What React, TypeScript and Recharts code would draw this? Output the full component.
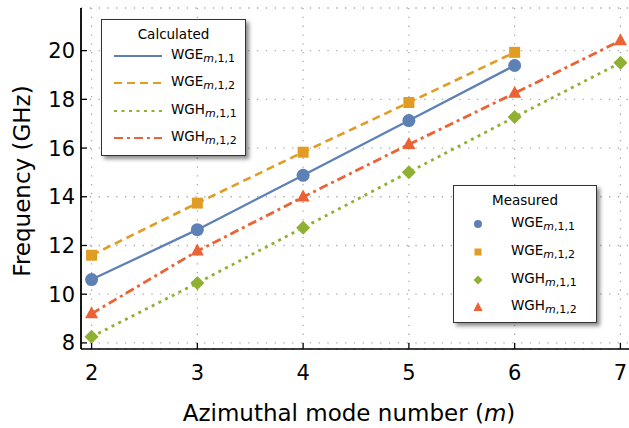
import React from "react";
import { CartesianGrid, ComposedChart, Line, Scatter, XAxis, YAxis } from "recharts";

// mode numbers
const M_E = [2, 3, 4, 5, 6];
const M_H = [2, 3, 4, 5, 6, 7];

// measured / calculated frequencies (GHz)
const WGE11 = [10.6, 12.65, 14.88, 17.13, 19.39];
const WGE12 = [11.6, 13.74, 15.83, 17.87, 19.93];
const WGH11 = [8.25, 10.46, 12.73, 15.01, 17.27, 19.5];
const WGH12 = [9.2, 11.77, 13.99, 16.15, 18.25, 20.41];

const X_TICKS = [2, 3, 4, 5, 6, 7];
const Y_TICKS = [8, 10, 12, 14, 16, 18, 20];

const SERIES_BASE = ["WGE", "WGE", "WGH", "WGH"];
const SERIES_IDX = [",1,1", ",1,2", ",1,1", ",1,2"];

// Mathematica 10 default palette
const BLUE = "#5E81B5";
const ORANGE = "#E19C24";
const GREEN = "#8FB032";
const RED = "#EB6235";
const COLORS = [BLUE, ORANGE, GREEN, RED];
const DASHES = ["", "8 5", "3 4.5", "9 4 3 4"];

const FONT = "'DejaVu Sans', sans-serif";

const pts = (ms: number[], fs: number[]) => ms.map((m, i) => ({ m, f: fs[i] }));

const XTick = ({ x, y, payload }: any) => (
  <g>
    <line x1={x} y1={y} x2={x} y2={y - 6} stroke="#000" strokeWidth={1.3} />
    <text x={x} y={y + 31} textAnchor="middle" fontSize={21} fontFamily={FONT} fill="#000">
      {payload.value}
    </text>
  </g>
);

const YTick = ({ x, y, payload }: any) => (
  <g>
    <line x1={x} y1={y} x2={x + 6} y2={y} stroke="#000" strokeWidth={1.3} />
    <text x={x - 6} y={y} dy="0.36em" textAnchor="end" fontSize={21} fontFamily={FONT} fill="#000">
      {payload.value}
    </text>
  </g>
);

const circleShape = (p: any) => <circle cx={p.cx} cy={p.cy} r={6.5} fill={BLUE} />;
const squareShape = (p: any) => <rect x={p.cx - 5.5} y={p.cy - 5.5} width={11} height={11} fill={ORANGE} />;
const diamondShape = (p: any) => (
  <polygon
    points={`${p.cx},${p.cy - 7} ${p.cx + 7},${p.cy} ${p.cx},${p.cy + 7} ${p.cx - 7},${p.cy}`}
    fill={GREEN}
  />
);
const triangleShape = (p: any) => (
  <polygon
    points={`${p.cx},${p.cy - 7.5} ${p.cx + 6.5},${p.cy + 4.5} ${p.cx - 6.5},${p.cy + 4.5}`}
    fill={RED}
  />
);

const Name = ({ i }: { i: number }) => (
  <span>
    {SERIES_BASE[i]}
    <span style={{ fontSize: 11, position: "relative", top: 3 }}>
      <i>m</i>
      {SERIES_IDX[i]}
    </span>
  </span>
);

const boxStyle: React.CSSProperties = {
  position: "absolute",
  background: "#fff",
  border: "1.5px solid #333",
  boxShadow: "3px 3px 4px rgba(0,0,0,0.45)",
  fontFamily: FONT,
  fontSize: 13.5,
  color: "#000",
};

const MarkerIcon = ({ i }: { i: number }) => (
  <svg width={16} height={16} style={{ position: "absolute", left: 16, top: -8 }}>
    {i === 0 && <circle cx={8} cy={8} r={4} fill={BLUE} />}
    {i === 1 && <rect x={4.5} y={4.5} width={7} height={7} fill={ORANGE} />}
    {i === 2 && <polygon points="8,3.5 12.5,8 8,12.5 3.5,8" fill={GREEN} />}
    {i === 3 && <polygon points="8,3 12.5,12 3.5,12" fill={RED} />}
  </svg>
);

export default function App() {
  return (
    <div style={{ position: "fixed", left: 0, top: 0, width: 629, height: 428, overflow: "hidden", background: "#fff" }}>
      <ComposedChart width={640} height={428} margin={{ top: 8, right: 9, bottom: 0, left: 0 }}>
        <CartesianGrid stroke="#aaa" strokeWidth={1.3} strokeDasharray="1.3 7.5" />
        <XAxis
          dataKey="m"
          type="number"
          domain={[1.9, 7.1]}
          ticks={X_TICKS}
          height={79}
          tickSize={0}
          tickMargin={0}
          tickLine={false}
          axisLine={{ stroke: "#000", strokeWidth: 1.6 }}
          tick={<XTick />}
          allowDataOverflow
        />
        <XAxis
          xAxisId="top"
          orientation="top"
          dataKey="m"
          type="number"
          domain={[1.9, 7.1]}
          height={0}
          tick={false}
          tickLine={false}
          axisLine={{ stroke: "#000", strokeWidth: 3 }}
          allowDataOverflow
        />
        <YAxis
          dataKey="f"
          type="number"
          domain={[7.75, 21.75]}
          ticks={Y_TICKS}
          width={81}
          tickSize={0}
          tickMargin={0}
          tickLine={false}
          axisLine={{ stroke: "#000", strokeWidth: 1.8 }}
          tick={<YTick />}
          allowDataOverflow
        />
        <Line data={pts(M_E, WGE11)} dataKey="f" stroke={BLUE} strokeWidth={2.3} dot={false} isAnimationActive={false} />
        <Line data={pts(M_E, WGE12)} dataKey="f" stroke={ORANGE} strokeWidth={2.6} strokeDasharray={DASHES[1]} dot={false} isAnimationActive={false} />
        <Line data={pts(M_H, WGH11)} dataKey="f" stroke={GREEN} strokeWidth={2.8} strokeDasharray={DASHES[2]} dot={false} isAnimationActive={false} />
        <Line data={pts(M_H, WGH12)} dataKey="f" stroke={RED} strokeWidth={2.8} strokeDasharray={DASHES[3]} dot={false} isAnimationActive={false} />
        <Scatter data={pts(M_E, WGE11)} dataKey="f" shape={circleShape} isAnimationActive={false} />
        <Scatter data={pts(M_E, WGE12)} dataKey="f" shape={squareShape} isAnimationActive={false} />
        <Scatter data={pts(M_H, WGH11)} dataKey="f" shape={diamondShape} isAnimationActive={false} />
        <Scatter data={pts(M_H, WGH12)} dataKey="f" shape={triangleShape} isAnimationActive={false} />
      </ComposedChart>

      {/* axis titles */}
      <svg width={629} height={428} style={{ position: "absolute", left: 0, top: 0, pointerEvents: "none" }}>
        <text x={30} y={181} transform="rotate(-90 30 181)" textAnchor="middle" fontSize={23} fontFamily={FONT} fill="#000">
          Frequency (GHz)
        </text>
        <text x={349} y={421} textAnchor="middle" fontSize={23} fontFamily={FONT} fill="#000">
          Azimuthal mode number (<tspan fontStyle="italic">m</tspan>)
        </text>
      </svg>

      {/* Calculated legend */}
      <div style={{ ...boxStyle, left: 101, top: 19, width: 143, height: 135 }}>
        <div style={{ position: "absolute", left: 0, right: 0, top: 6, textAlign: "center" }}>Calculated</div>
        {COLORS.map((c, i) => (
          <div key={i} style={{ position: "absolute", left: 0, top: 36 + i * 27.3, height: 0 }}>
            <svg width={50} height={6} style={{ position: "absolute", left: 12, top: -3 }}>
              <line x1={0} y1={3} x2={48} y2={3} stroke={c} strokeWidth={2} strokeDasharray={DASHES[i]} />
            </svg>
            <div style={{ position: "absolute", left: 69, top: -10, whiteSpace: "nowrap" }}>
              <Name i={i} />
            </div>
          </div>
        ))}
      </div>

      {/* Measured legend */}
      <div style={{ ...boxStyle, left: 453, top: 185, width: 142, height: 136 }}>
        <div style={{ position: "absolute", left: 0, right: 0, top: 6, textAlign: "center" }}>Measured</div>
        {COLORS.map((_, i) => (
          <div key={i} style={{ position: "absolute", left: 0, top: 38 + i * 27.8, height: 0 }}>
            <MarkerIcon i={i} />
            <div style={{ position: "absolute", left: 57, top: -10, whiteSpace: "nowrap" }}>
              <Name i={i} />
            </div>
          </div>
        ))}
      </div>
    </div>
  );
}
